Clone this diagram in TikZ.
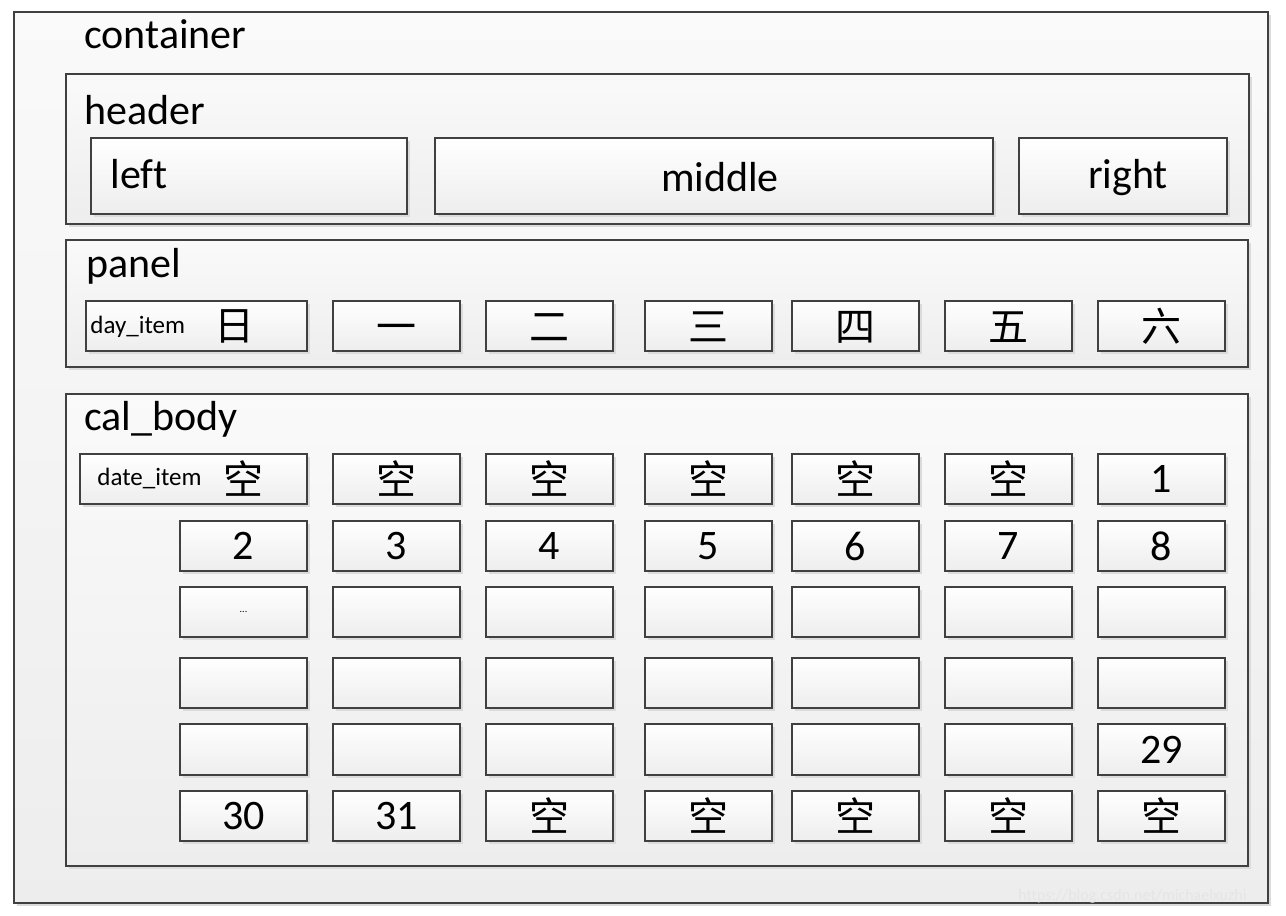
\documentclass[tikz,border=0pt]{standalone}
\usepackage{fontspec}
\setmainfont{Carlito}[Ligatures=CommonOff]
\newfontfamily\cjk{Noto Sans CJK SC}
\usepackage{tikz}
\usetikzlibrary{fit, shadows}

\begin{document}
\begin{tikzpicture}[x=0.5pt, y=-0.5pt,
    box/.style={draw=black!75, line width=0.7pt, inner sep=0pt,
        top color=white, bottom color=black!7,
        drop shadow={shadow xshift=1.6pt, shadow yshift=-1.6pt, fill=black!14, opacity=1}},
    frame/.style={box, top color=black!2, bottom color=black!7},
    title/.style={anchor=base west, inner sep=0pt, font=\fontsize{21}{25}\selectfont},
    word/.style={anchor=base, inner sep=0pt, font=\fontsize{21}{25}\selectfont},
    cell/.style={inner sep=0pt, font=\fontsize{21}{25}\selectfont},
    hanzi/.style={inner sep=0pt, text height=17.6pt, text depth=2.4pt, font=\cjk\fontsize{20}{24}\selectfont},
    tag/.style={anchor=base west, inner sep=0pt, font=\fontsize{12.5}{15}\selectfont}]
    \useasboundingbox[fill=white] (0,0) rectangle (1286,916);

    % container
    \node[frame, fit={(14,12) (1268,903)}] (container) {};
    \node[title] (containerlbl) at (84,48) {container};

    % header
    \node[frame, fit={(66,74) (1249,224)}] (header) {};
    \node[title] (headerlbl) at (84,124) {header};
    \node[box, fit={(91,138) (407,214)}] (left) {};
    \node[title] (leftlbl) at (110,188) {left};
    \node[box, fit={(435,138) (993,214)}] (middle) {};
    \node[word] (middlelbl) at (720,191) {middle};
    \node[box, fit={(1019,138) (1227,214)}] (right) {};
    \node[word] (rightlbl) at (1128,188) {right};

    % panel
    \node[frame, fit={(66,240) (1248,367)}] (panel) {};
    \node[title] (panellbl) at (86,277) {panel};
    \node[box, fit={(86,301) (307,351)}] (day1) {};
    \node[tag] (daylbl) at (90,333) {day\_item};
    \node[hanzi] (day1txt) at (234,325) {日};
    \foreach \x/\t [count=\i from 2] in {333/一, 486/二, 645/三, 792/四, 945/五, 1098/六} {
        \node[box, fit={(\x,301) (\x+127,351)}] (day\i) {};
        \node[hanzi] (day\i txt) at (day\i) {\t};
    }

    % cal_body
    \node[frame, fit={(66,394) (1248,866)}] (calbody) {};
    \node[title] (calbodylbl) at (84,430) {cal\_body};
    \node[box, fit={(80,454) (307,504)}] (date11) {};
    \node[tag] (datelbl) at (97,485) {date\_item};
    \node[hanzi] (date11txt) at (243,479) {空};
    \foreach \x/\t [count=\i from 2] in {333/空, 486/空, 645/空, 792/空, 945/空} {
        \node[box, fit={(\x,454) (\x+127,504)}] (date1\i) {};
        \node[hanzi] (date1\i txt) at (date1\i) {\t};
    }
    \node[box, fit={(1098,454) (1225,504)}] (date17) {};
    \node[cell] (date17txt) at (date17) {1};
    \foreach \x/\t [count=\i] in {180/2, 333/3, 486/4, 645/5, 792/6, 945/7, 1098/8} {
        \node[box, fit={(\x,521) (\x+127,571)}] (date2\i) {};
        \node[cell] (date2\i txt) at (date2\i) {\t};
    }
    \foreach \x [count=\i] in {180, 333, 486, 645, 792, 945, 1098} {
        \node[box, fit={(\x,587) (\x+127,637)}] (date3\i) {};
        \node[box, fit={(\x,658) (\x+127,708)}] (date4\i) {};
        \node[box, fit={(\x,724) (\x+127,775)}] (date5\i) {};
    }
    \node[cell, font=\fontsize{5}{6}\selectfont] (date31txt) at (date31) {...};
    \node[cell] (date57txt) at (date57) {29};
    \foreach \x/\t [count=\i] in {180/30, 333/31} {
        \node[box, fit={(\x,791) (\x+127,841)}] (date6\i) {};
        \node[cell] (date6\i txt) at (date6\i) {\t};
    }
    \foreach \x [count=\i from 3] in {486, 645, 792, 945, 1098} {
        \node[box, fit={(\x,791) (\x+127,841)}] (date6\i) {};
        \node[hanzi] (date6\i txt) at (date6\i) {空};
    }

    \node[anchor=base east, inner sep=0pt, text=black!10, font=\fontsize{8}{10}\selectfont] (mark) at (1247,900) {https://blog.csdn.net/michaelxuzhi};
\end{tikzpicture}
\end{document}
